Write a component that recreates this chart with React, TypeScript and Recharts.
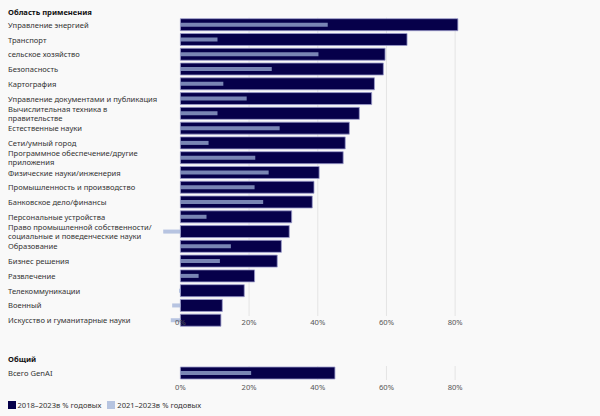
import { Bar, BarChart, CartesianGrid, XAxis, YAxis } from "recharts";

const categories = [
  "Управление энергией",
  "Транспорт",
  "сельское хозяйство",
  "Безопасность",
  "Картография",
  "Управление документами и публикация",
  "Вычислительная техника в\nправительстве",
  "Естественные науки",
  "Сети/умный город",
  "Программное обеспечение/другие\nприложения",
  "Физические науки/инженерия",
  "Промышленность и производство",
  "Банковское дело/финансы",
  "Персональные устройства",
  "Право промышленной собственности/\nсоциальные и поведенческие науки",
  "Образование",
  "Бизнес решения",
  "Развлечение",
  "Телекоммуникации",
  "Военный",
  "Искусство и гуманитарные науки",
];

// 2018–2023, % годовых
const growth2018 = [
  80.8, 66.0, 59.6, 59.1, 56.5, 55.7, 52.1, 49.2, 48.0, 47.4, 40.4, 38.9, 38.4, 32.4, 31.7, 29.4, 28.2,
  21.6, 18.6, 12.2, 11.8,
];

// 2021–2023, % годовых
const growth2021 = [
  42.9, 10.8, 40.2, 26.6, 12.5, 19.3, 10.8, 28.9, 8.2, 21.8, 25.7, 21.6, 24.1, 7.6, -5.0, 14.7, 11.5,
  5.3, -0.4, -2.4, -2.8,
];

const totalLabel = ["Всего GenAI"];
const total2018 = [45.0];
const total2021 = [20.6];

const xTicks = [0, 20, 40, 60, 80];
const xDomain = [-6, 82];
const legendLabels = ["2018–2023в % годовых", "2021–2023в % годовых"];

const DARK = "#06004a";
const DARK_EDGE = "#9c9ccc";
const LIGHT = "#a0b2d8";
const FONT = "'Noto Sans', sans-serif";
const FS = 7.6;

const mainData = categories.map((name, i) => ({ name, a: growth2018[i], b: growth2021[i] }));
const totalData = totalLabel.map((name, i) => ({ name, a: total2018[i], b: total2021[i] }));

function CategoryTick(props: any) {
  const { y, payload } = props;
  const lines = String(payload.value).split("\n");
  const lh = 8.6;
  const top = y - ((lines.length - 1) * lh) / 2;
  return (
    <text fontSize={FS} fill="#333" fontFamily={FONT}>
      {lines.map((l, i) => (
        <tspan key={i} x={8} y={top + i * lh} dy="0.35em">
          {l}
        </tspan>
      ))}
    </text>
  );
}

function makePctTick(shift: number) {
  return (props: any) => (
    <text
      x={props.x}
      y={props.y + shift}
      dy="0.35em"
      textAnchor="middle"
      fontSize={FS}
      fill="#555"
      fontFamily={FONT}
    >
      {props.payload.value}%
    </text>
  );
}

function makeGridLine(trim: number) {
  return (p: any) => (
    <line
      key={p.key ?? p.index ?? p.x1}
      x1={p.x1}
      x2={p.x2}
      y1={p.y1}
      y2={p.y2 - trim}
      stroke="#e4e4e4"
      strokeWidth={1}
    />
  );
}

// grid only at 20/40/60/80, the zero line sits under the bars
const gridCoords = ({ xAxis, offset }: any) => {
  const s = xAxis?.scale;
  if (typeof s === "function") return xTicks.slice(1).map((t) => s(t));
  const [d0, d1] = xDomain;
  return xTicks.slice(1).map((t) => offset.left + ((t - d0) / (d1 - d0)) * offset.width);
};

function Chart({
  data,
  height,
  top,
  axisHeight,
  tickShift,
  gridTrim,
}: {
  data: any[];
  height: number;
  top: number;
  axisHeight: number;
  tickShift: number;
  gridTrim: number;
}) {
  return (
    <BarChart
      width={470}
      height={height}
      data={data}
      layout="vertical"
      margin={{ top, right: 8, bottom: 0, left: 0 }}
      barCategoryGap={0}
    >
      <CartesianGrid
        horizontal={false}
        vertical={makeGridLine(gridTrim)}
        verticalCoordinatesGenerator={gridCoords}
      />
      <XAxis
        type="number"
        domain={xDomain}
        ticks={xTicks}
        axisLine={false}
        tickLine={false}
        tickSize={0}
        tickMargin={0}
        height={axisHeight}
        tick={makePctTick(tickShift)}
        interval={0}
      />
      <YAxis
        yAxisId="main"
        type="category"
        dataKey="name"
        width={159.8}
        axisLine={false}
        tickLine={false}
        tick={<CategoryTick />}
        interval={0}
      />
      <YAxis yAxisId="inner" type="category" dataKey="name" hide />
      <Bar
        yAxisId="main"
        dataKey="a"
        barSize={12}
        fill={DARK}
        stroke={DARK_EDGE}
        strokeWidth={0.8}
        isAnimationActive={false}
      />
      <Bar
        yAxisId="inner"
        dataKey="b"
        barSize={4}
        fill={LIGHT}
        fillOpacity={0.75}
        isAnimationActive={false}
      />
    </BarChart>
  );
}

export default function App() {
  return (
    <div
      style={{
        position: "fixed",
        left: 0,
        top: 0,
        width: 600,
        height: 416,
        background: "#f9f9f9",
        fontFamily: FONT,
        color: "#333",
      }}
    >
      <div style={{ position: "absolute", left: 8, top: 7, fontSize: FS, fontWeight: 700, color: "#111", lineHeight: "10px" }}>
        Область применения
      </div>
      <div style={{ position: "absolute", left: 0, top: 0 }}>
        <Chart data={mainData} height={336} top={17.7} axisHeight={8} tickShift={-6} gridTrim={12} />
      </div>
      <div style={{ position: "absolute", left: 8, top: 354, fontSize: FS, fontWeight: 700, color: "#111", lineHeight: "10px" }}>
        Общий
      </div>
      <div style={{ position: "absolute", left: 0, top: 360 }}>
        <Chart data={totalData} height={34} top={6} axisHeight={14} tickShift={7} gridTrim={0} />
      </div>
      <div
        style={{
          position: "absolute",
          left: 7.5,
          top: 400,
          display: "flex",
          alignItems: "center",
          fontSize: FS,
          lineHeight: "10px",
          color: "#333",
        }}
      >
        {legendLabels.map((label, i) => (
          <div key={label} style={{ display: "flex", alignItems: "center", marginRight: 6 }}>
            <span
              style={{
                display: "inline-block",
                width: 8,
                height: 8,
                marginRight: 2,
                background: i === 0 ? DARK : "#b6c4e0",
              }}
            />
            {label}
          </div>
        ))}
      </div>
    </div>
  );
}
